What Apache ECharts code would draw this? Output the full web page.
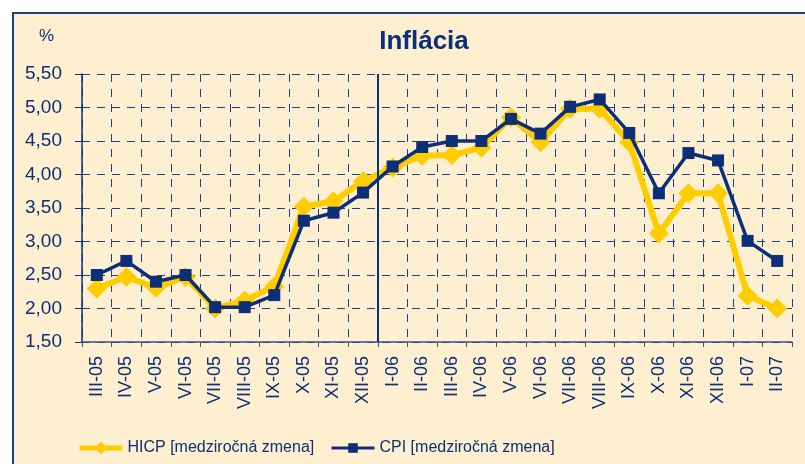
<!DOCTYPE html>
<html>
<head>
<meta charset="utf-8">
<script src="https://cdn.jsdelivr.net/npm/echarts@6/dist/echarts.min.js"></script>
<style>
  html, body { margin: 0; padding: 0; background: #fff; }
  .panel { position: absolute; left: 12px; top: 12px; width: 810px; height: 470px;
    background: #fdefd0; border-left: 2px solid #1f3f85; border-top: 2px solid #1f3f85; box-sizing: border-box; }
  #chart { position: absolute; left: 0; top: 0; width: 805px; height: 464px; }
</style>
</head>
<body>
<div class="panel"></div>
<div id="chart"></div>
<script>
  // mesiace (rimske cislice - rok)
  var months = ['III-05','IV-05','V-05','VI-05','VII-05','VIII-05','IX-05','X-05','XI-05','XII-05',
    'I-06','II-06','III-06','IV-06','V-06','VI-06','VII-06','VIII-06','IX-06','X-06','XI-06','XII-06',
    'I-07','II-07']
  var hicp = [2.30,2.47,2.31,2.47,2.00,2.12,2.33,3.52,3.60,3.90,4.10,4.28,4.29,4.40,4.85,4.48,4.98,4.98,4.48,3.12,3.72,3.72,2.19,2.00]
  var cpi = [2.50,2.71,2.40,2.50,2.02,2.02,2.20,3.31,3.43,3.73,4.12,4.41,4.50,4.50,4.83,4.61,5.01,5.12,4.62,3.72,4.32,4.21,3.01,2.71]
  var yearBreak = 10 // hranica 2005 / 2006

  var navy = '#0c2f78'
  var yellow = '#ffcc00'
  var font = '"Liberation Sans", Arial, sans-serif'

  var chart = echarts.init(document.getElementById('chart'))
  chart.setOption({
    animation: false,
    textStyle: { fontFamily: font },
    title: [
      { text: 'Inflácia', left: 419, top: 24, textAlign: 'center',
        textStyle: { color: navy, fontSize: 26, fontWeight: 'bold', fontFamily: font } },
      { text: '%', left: 34, top: 23,
        textStyle: { color: navy, fontSize: 17, fontWeight: 'normal', fontFamily: font } }
    ],
    legend: [
      { data: ['HICP [medziročná zmena]'], left: 72, top: 435, itemWidth: 43, itemHeight: 16, itemGap: 4,
        lineStyle: { width: 5 },
        textStyle: { color: navy, fontSize: 16, fontFamily: font } },
      { data: ['CPI [medziročná zmena]'], left: 325, top: 435, itemWidth: 43, itemHeight: 12,
        lineStyle: { width: 3 },
        textStyle: { color: navy, fontSize: 16, fontFamily: font } }
    ],
    grid: { left: 82, right: 13, top: 74, bottom: 122 },
    xAxis: [{
      type: 'category',
      data: months,
      boundaryGap: true,
      axisLine: { lineStyle: { color: '#3b5386', width: 1.5 } },
      axisTick: { show: true, interval: 0, length: 5, lineStyle: { color: '#3b5386' } },
      axisLabel: { interval: 0, rotate: 90, margin: 14, color: navy, fontSize: 18, fontFamily: font },
      splitLine: { show: true, interval: 0, lineStyle: { color: '#1f3f85', type: [8, 7], width: 1 } }
    }, {
      type: 'value', min: 0, max: months.length, show: false
    }],
    yAxis: {
      type: 'value',
      min: 1.5, max: 5.5, interval: 0.5,
      axisLine: { show: true, lineStyle: { color: navy, width: 1.5 } },
      axisTick: { show: true, length: 7, lineStyle: { color: navy } },
      axisLabel: { color: navy, fontSize: 19, margin: 20, fontFamily: font,
        formatter: function (v) { return v.toFixed(2).replace('.', ',') } },
      splitLine: { lineStyle: { color: '#1f3f85', type: [8, 7], width: 1 } }
    },
    series: [
      {
        name: 'HICP [medziročná zmena]',
        type: 'line',
        data: hicp,
        symbol: 'diamond',
        symbolSize: 20,
        lineStyle: { color: yellow, width: 6 },
        itemStyle: { color: yellow },
        z: 3
      },
      {
        name: 'CPI [medziročná zmena]',
        type: 'line',
        data: cpi,
        symbol: 'rect',
        symbolSize: 12,
        lineStyle: { color: navy, width: 3.5 },
        itemStyle: { color: navy },
        z: 4
      },
      {
        // zvisla ciara medzi rokmi 2005 a 2006
        type: 'line',
        xAxisIndex: 1,
        data: [],
        silent: true,
        markLine: {
          symbol: 'none',
          label: { show: false },
          lineStyle: { color: navy, width: 2, type: 'solid' },
          data: [{ xAxis: yearBreak }]
        }
      }
    ]
  })
</script>
</body>
</html>
